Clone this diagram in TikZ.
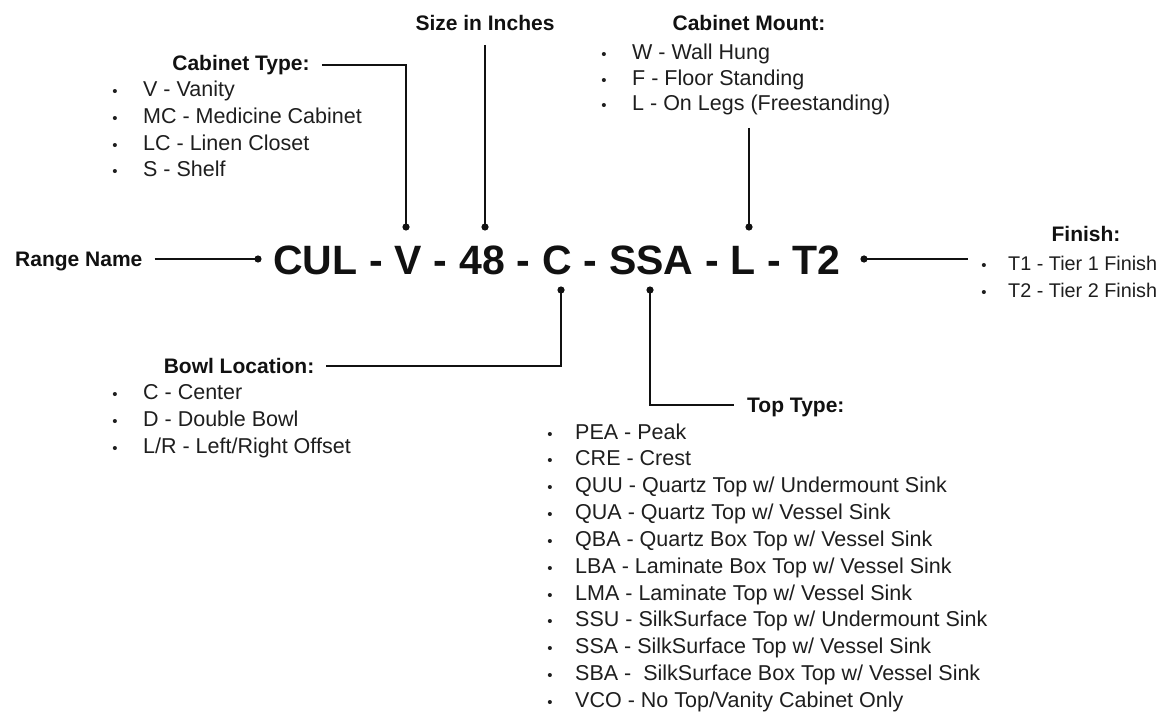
\documentclass[tikz,border=0pt]{standalone}
\usepackage{fontspec}
\setmainfont{Liberation Sans}
\newcommand\bodyfnt{\fontsize{21.5}{26}\selectfont}
\newcommand\finfnt{\fontsize{19.8}{24}\selectfont}
\newcommand\titlefnt{\fontsize{21}{25}\selectfont\bfseries}
\newcommand\codefnt{\fontsize{41}{48}\selectfont\bfseries}
\newcommand\bul{\makebox[0pt][c]{\fontsize{15}{15}\selectfont\textbullet}}
\definecolor{ink}{HTML}{111111}
\definecolor{txt}{HTML}{1E1E1E}
\tikzset{
  item/.style={anchor=base west, inner sep=0pt, font=\bodyfnt, text=txt},
  bulletmark/.style={anchor=base, inner sep=0pt, font=\bodyfnt, text=txt},
  ttl/.style={anchor=base, inner sep=0pt, font=\titlefnt, text=ink},
  code/.style={anchor=base west, inner sep=0pt, font=\codefnt, text=ink},
  conn/.style={line width=1.4pt, draw=ink},
  enddot/.style={fill=ink},
}
\begin{document}
\begin{tikzpicture}[x=1pt,y=-1pt]
\useasboundingbox (0,0) rectangle (1170,714);

% ---- code line ----
\node[code] (cul) at (273,274) {CUL};
\node[code] (h1) at ([xshift=11.4pt]cul.base east) {-};
\node[code] (v) at ([xshift=11.4pt]h1.base east) {V};
\node[code] (h2) at ([xshift=11.4pt]v.base east) {-};
\node[code] (n48) at ([xshift=11.4pt]h2.base east) {48};
\node[code] (h3) at ([xshift=11.4pt]n48.base east) {-};
\node[code] (c) at ([xshift=11.4pt]h3.base east) {C};
\node[code] (h4) at ([xshift=11.4pt]c.base east) {-};
\node[code] (ssa) at ([xshift=11.4pt]h4.base east) {SSA};
\node[code] (h5) at ([xshift=11.4pt]ssa.base east) {-};
\node[code] (l) at ([xshift=11.4pt]h5.base east) {L};
\node[code] (h6) at ([xshift=11.4pt]l.base east) {-};
\node[code] (t2) at ([xshift=11.4pt]h6.base east) {T2};

% ---- dot points ----
\coordinate (dRange) at (258,259);
\coordinate (dV) at (406,227);
\coordinate (d48) at (485,227);
\coordinate (dL) at (749,227);
\coordinate (dC) at (561,290);
\coordinate (dSSA) at (650,290);
\coordinate (dFin) at (864,259);

% ---- Range Name ----
\node[anchor=base west, inner sep=0pt, font=\titlefnt, text=ink] (rn) at (15,266) {Range Name};
\draw[conn] ([xshift=12pt,yshift=7pt]rn.base east) -- (dRange);

% ---- Cabinet Type ----
\node[ttl] (ct) at (241,71) {Cabinet Type:};
\coordinate (ctbend) at (406,65);
\draw[conn] ([xshift=12pt,yshift=6pt]ct.base east) -- (ctbend) -- (dV);
\foreach \t [count=\i] in {V - Vanity, MC - Medicine Cabinet, LC - Linen Closet, S - Shelf}{
  \node[bulletmark] (ctb\i) at (115,{97+26.6*(\i-1)}) {\bul};
  \node[item] (cti\i) at (143,{97+26.6*(\i-1)}) {\t};
}

% ---- Size in Inches ----
\node[ttl] (size) at (485,31) {Size in Inches};
\draw[conn] ([yshift=-14pt]size.base) -- (d48);

% ---- Cabinet Mount ----
\node[ttl] (cm) at (749,31) {Cabinet Mount:};
\foreach \t [count=\i] in {W - Wall Hung, F - Floor Standing, L - On Legs (Freestanding)}{
  \node[bulletmark] (cmb\i) at (604,{60+25.5*(\i-1)}) {\bul};
  \node[item] (cmi\i) at (632,{60+25.5*(\i-1)}) {\t};
}
\coordinate (cmtop) at (749,128);
\draw[conn] (cmtop) -- (dL);

% ---- Finish ----
\node[ttl] (fin) at (1086,241) {Finish:};
\coordinate (finend) at (968,259);
\draw[conn] (dFin) -- (finend);
\foreach \t [count=\i] in {T1 - Tier 1 Finish, T2 - Tier 2 Finish}{
  \node[bulletmark] (fnb\i) at (984,{270+27*(\i-1)}) {\bul};
  \node[item, font=\finfnt] (fni\i) at (1008,{270+27*(\i-1)}) {\t};
}

% ---- Bowl Location ----
\node[ttl] (bl) at (239,373) {Bowl Location:};
\coordinate (blbend) at (561,366);
\draw[conn] ([xshift=12pt,yshift=7pt]bl.base east) -- (blbend) -- (dC);
\foreach \t [count=\i] in {C - Center, D - Double Bowl, L/R - Left/Right Offset}{
  \node[bulletmark] (blb\i) at (115,{399+27*(\i-1)}) {\bul};
  \node[item] (bli\i) at (143,{399+27*(\i-1)}) {\t};
}

% ---- Top Type ----
\node[anchor=base west, inner sep=0pt, font=\titlefnt, text=ink] (tt) at (747,412) {Top Type:};
\coordinate (ttbend) at (650,405);
\draw[conn] (dSSA) -- (ttbend) -- ([xshift=-13pt,yshift=7pt]tt.base west);
\foreach \t [count=\i] in {PEA - Peak, CRE - Crest, QUU - Quartz Top w/ Undermount Sink, QUA - Quartz Top w/ Vessel Sink, QBA - Quartz Box Top w/ Vessel Sink, LBA - Laminate Box Top w/ Vessel Sink, LMA - Laminate Top w/ Vessel Sink, SSU - SilkSurface Top w/ Undermount Sink, SSA - SilkSurface Top w/ Vessel Sink, SBA - \ SilkSurface Box Top w/ Vessel Sink, VCO - No Top/Vanity Cabinet Only}{
  \node[bulletmark] (ttb\i) at (550,{439+26.85*(\i-1)}) {\bul};
  \node[item] (tti\i) at (575,{439+26.85*(\i-1)}) {\t};
}

% ---- dots ----
\foreach \p in {dRange,dV,d48,dL,dC,dSSA,dFin}
  \fill[enddot] (\p) circle (3.6);
\end{tikzpicture}
\end{document}
